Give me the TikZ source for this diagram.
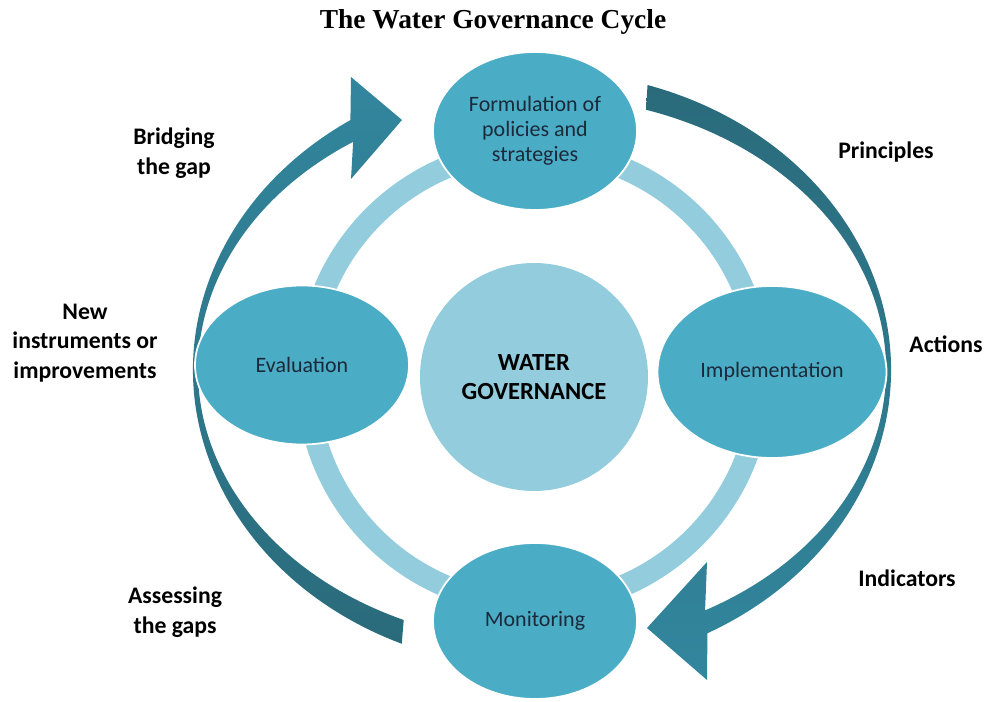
\documentclass[tikz,border=0pt]{standalone}
\usepackage{fontspec}
\setmainfont{Carlito}
\newfontfamily\titlefont{Liberation Serif}
\usetikzlibrary{shapes.geometric}
\definecolor{stageblue}{HTML}{4BACC6}
\definecolor{ringblue}{HTML}{93CDDD}
\definecolor{arrowdark}{HTML}{2A6B7B}
\definecolor{arrowteal}{HTML}{32869D}
\definecolor{stagetext}{HTML}{1B2A3A}

\begin{document}
\begin{tikzpicture}[
  stage/.style={ellipse, fill=stageblue, draw=white, line width=1pt, text=stagetext, align=center, inner sep=0pt, font=\fontsize{12.5}{14.3}\selectfont},
  sidelabel/.style={align=center, font=\fontsize{13.5}{16.8}\selectfont\bfseries}]
\useasboundingbox (0,0) rectangle (19.72,14.04);

% Title
\node[font=\titlefont\fontsize{15.6}{18}\selectfont\bfseries] (title) at (9.86,13.60) {The Water Governance Cycle};

% Big curved arrows round the cycle
\coordinate (ac) at (10.84,6.64);
\shade[top color=arrowteal, bottom color=arrowdark]
  ([shift={(ac)}]246.3:6.98 and 5.98) arc[start angle=246.3, end angle=123.3, x radius=6.98, y radius=5.98]
  -- (7.02,12.50) -- (8.04,11.64) -- (7.02,10.46)
  -- ([shift={(ac)}]123.3:6.88 and 5.46) arc[start angle=123.3, end angle=246.3, x radius=6.88, y radius=5.46]
  -- cycle;
\shade[top color=arrowdark, bottom color=arrowteal]
  ([shift={(ac)}]72.4:6.98 and 5.98) arc[start angle=72.4, end angle=-61.7, x radius=6.98, y radius=5.98]
  -- (14.14,0.44) -- (12.94,1.48) -- (14.14,2.80)
  -- ([shift={(ac)}]-61.7:6.88 and 5.46) arc[start angle=-61.7, end angle=72.4, x radius=6.88, y radius=5.46]
  -- cycle;

% Hub and ring
\node[circle, fill=ringblue, minimum size=4.56cm, inner sep=0pt, align=center, font=\fontsize{14}{16.5}\selectfont\bfseries] (hub) at (10.68,6.50) {WATER\\GOVERNANCE};
\draw[ringblue, line width=0.44cm] (hub.center) circle[radius=4.54];

% Stages of the cycle
\node[stage, minimum width=4.08cm, minimum height=3.16cm] (form) at (10.70,11.42) {Formulation of\\policies and\\strategies};
\node[stage, minimum width=4.58cm, minimum height=3.44cm] (impl) at (15.44,6.60) {Implementation};
\node[stage, minimum width=4.08cm, minimum height=3.12cm] (moni) at (10.70,1.62) {Monitoring};
\node[stage, minimum width=4.28cm, minimum height=3.18cm] (eval) at (6.04,6.74) {Evaluation};

% Labels round the outside
\node[sidelabel] (bridge) at (3.48,10.98) {Bridging\\the gap};
\node[sidelabel] (princ) at (17.72,11.00) {Principles};
\node[sidelabel] (newinst) at (1.70,7.18) {New\\instruments or\\improvements};
\node[sidelabel] (actions) at (18.92,7.16) {Actions};
\node[sidelabel] (assess) at (3.50,1.80) {Assessing\\the gaps};
\node[sidelabel] (indic) at (18.14,2.48) {Indicators};
\end{tikzpicture}
\end{document}
